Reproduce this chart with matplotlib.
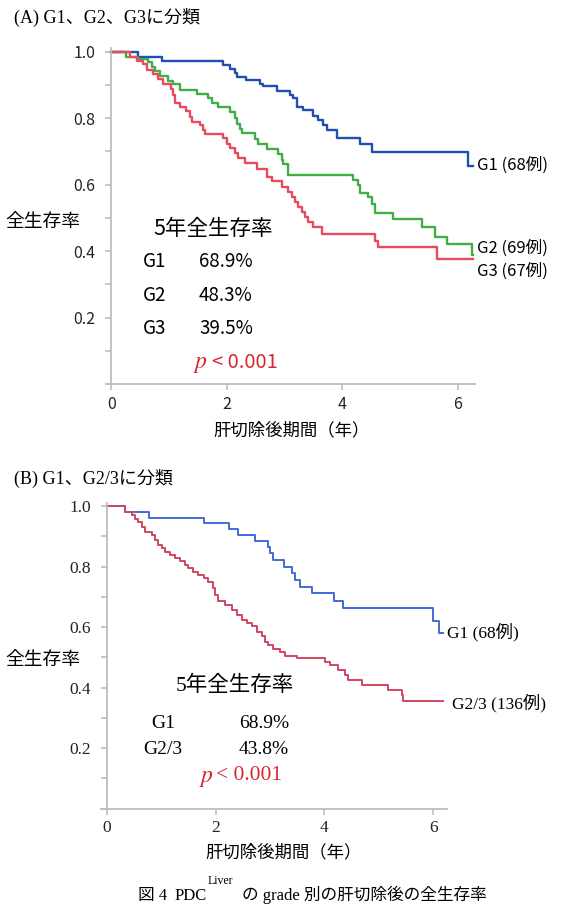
import matplotlib
matplotlib.use("Agg")
import matplotlib.pyplot as plt
from matplotlib.ticker import MultipleLocator, FixedLocator

plt.rcParams["mathtext.fontset"] = "stix"

# ---------------- data ----------------
# Panel A: G1 / G2 / G3
a_g1_t = [0, 0.465, 0.87, 1.94, 2.05, 2.14, 2.17, 2.34, 2.57, 2.63, 2.86, 3.09, 3.15, 3.21,
          3.32, 3.50, 3.58, 3.67, 3.73, 3.90, 4.31, 4.51, 6.18, 6.27]
a_g1_s = [1.0, 0.985, 0.971, 0.961, 0.948, 0.936, 0.925, 0.915, 0.903, 0.895, 0.880, 0.870,
          0.859, 0.833, 0.823, 0.806, 0.793, 0.778, 0.763, 0.741, 0.723, 0.698, 0.655, 0.655]

a_g2_t = [0, 0.26, 0.465, 0.64, 0.70, 0.75, 0.84, 0.985, 1.07, 1.19, 1.48, 1.68, 1.74, 1.85,
          2.05, 2.14, 2.17, 2.23, 2.26, 2.49, 2.54, 2.69, 2.89, 2.95, 2.98, 3.06, 4.19, 4.28,
          4.31, 4.45, 4.51, 4.57, 4.88, 5.38, 5.61, 5.81, 6.24, 6.27]
a_g2_s = [1.0, 0.985, 0.978, 0.968, 0.953, 0.941, 0.928, 0.913, 0.901, 0.885, 0.871, 0.859,
          0.845, 0.832, 0.818, 0.801, 0.783, 0.768, 0.755, 0.738, 0.723, 0.708, 0.691, 0.675,
          0.663, 0.628, 0.613, 0.598, 0.576, 0.563, 0.543, 0.515, 0.495, 0.471, 0.443, 0.420,
          0.387, 0.387]

a_g3_t = [0, 0.32, 0.44, 0.55, 0.61, 0.72, 0.81, 0.90, 1.04, 1.07, 1.10, 1.19, 1.30, 1.36,
          1.39, 1.53, 1.59, 1.62, 1.94, 2.00, 2.05, 2.14, 2.20, 2.31, 2.52, 2.69, 2.78, 2.95,
          3.06, 3.12, 3.18, 3.24, 3.30, 3.35, 3.41, 3.50, 3.64, 4.57, 4.62, 5.64, 6.27]
a_g3_s = [1.0, 0.983, 0.973, 0.963, 0.945, 0.933, 0.918, 0.903, 0.888, 0.868, 0.845, 0.833,
          0.821, 0.803, 0.788, 0.778, 0.765, 0.753, 0.741, 0.723, 0.711, 0.695, 0.681, 0.665,
          0.648, 0.623, 0.611, 0.593, 0.578, 0.563, 0.548, 0.532, 0.517, 0.502, 0.487, 0.472,
          0.452, 0.430, 0.412, 0.376, 0.376]

# Panel B: G1 / G2/3
b_g1_t = [0, 0.34, 0.77, 1.78, 2.24, 2.42, 2.73, 2.97, 3.01, 3.06, 3.25, 3.40, 3.46, 3.55,
          3.77, 4.17, 4.35, 6.00, 6.11, 6.19]
b_g1_s = [1.0, 0.981, 0.961, 0.943, 0.926, 0.904, 0.884, 0.866, 0.844, 0.822, 0.800, 0.778,
          0.756, 0.734, 0.712, 0.686, 0.662, 0.620, 0.580, 0.580]

b_g23_t = [0, 0.34, 0.46, 0.52, 0.58, 0.64, 0.70, 0.83, 0.89, 0.95, 1.01, 1.07, 1.16, 1.26,
           1.35, 1.44, 1.50, 1.59, 1.68, 1.78, 1.87, 1.96, 1.99, 2.05, 2.17, 2.30, 2.39, 2.48,
           2.57, 2.67, 2.76, 2.85, 2.91, 2.97, 3.06, 3.19, 3.28, 3.49, 4.01, 4.10, 4.26, 4.38,
           4.44, 4.69, 5.18, 5.42, 5.45, 6.19]
b_g23_s = [1.0, 0.981, 0.970, 0.959, 0.948, 0.932, 0.915, 0.904, 0.888, 0.871, 0.860, 0.849,
           0.838, 0.827, 0.818, 0.805, 0.794, 0.783, 0.772, 0.763, 0.750, 0.728, 0.706, 0.686,
           0.673, 0.657, 0.640, 0.624, 0.613, 0.602, 0.585, 0.569, 0.552, 0.541, 0.528, 0.517,
           0.506, 0.497, 0.486, 0.473, 0.459, 0.442, 0.426, 0.409, 0.393, 0.376, 0.354, 0.354]

x_ticks = [0, 2, 4, 6]
y_ticks_major = [0.2, 0.4, 0.6, 0.8, 1.0]

a_labels = ["G1 (68例)", "G2 (69例)", "G3 (67例)"]
a_rates = [("G1", "68.9%"), ("G2", "48.3%"), ("G3", "39.5%")]
b_labels = ["G1 (68例)", "G2/3 (136例)"]
b_rates = [("G1", "68.9%"), ("G2/3", "43.8%")]

# ---------------- figure ----------------
W, H = 567, 906
fig = plt.figure(figsize=(W / 100, H / 100), dpi=100)
fig.patch.set_facecolor("white")

SANS = ["Noto Sans CJK JP", "DejaVu Sans"]
SERIF = ["Liberation Serif", "Noto Sans CJK JP", "DejaVu Sans"]
AXC = "#bdbdbd"
PRED = "#d8262e"


def px(x, y):
    return x / W, 1 - y / H


def style_axes(ax, tickfont, fs, xmax):
    ax.set_xlim(-0.1, xmax)
    ax.set_ylim(0, 1.012)
    for s in ["top", "right"]:
        ax.spines[s].set_visible(False)
    ax.spines["left"].set_position(("data", 0))
    for s in ["left", "bottom"]:
        ax.spines[s].set_color(AXC)
        ax.spines[s].set_linewidth(1.3)
    ax.xaxis.set_major_locator(FixedLocator(x_ticks))
    ax.yaxis.set_major_locator(FixedLocator(y_ticks_major))
    ax.yaxis.set_minor_locator(MultipleLocator(0.1))
    ax.tick_params(axis="both", which="both", direction="out", color=AXC, width=1.2,
                   length=4.5, labelcolor="#222222")
    ax.tick_params(axis="y", pad=7)
    ax.tick_params(axis="x", pad=4)
    ax.set_yticklabels([f"{v:.1f}" for v in y_ticks_major], family=tickfont, fontsize=fs)
    ax.set_xticklabels([str(v) for v in x_ticks], family=tickfont, fontsize=fs)
    ax.set_facecolor("none")


# ---- Panel A ----
axA = fig.add_axes([105.7 / W, 1 - 384 / H, (475 - 105.7) / W, (384 - 47.6) / H])
style_axes(axA, SANS, 11.5, 6.3)
lwA = 1.7
axA.step(a_g1_t, a_g1_s, where="post", color="#1f4fb0", lw=lwA)
axA.step(a_g2_t, a_g2_s, where="post", color="#3fae45", lw=lwA)
axA.step(a_g3_t, a_g3_s, where="post", color="#ea4a60", lw=lwA)

fig.text(*px(14, 17), "(A) G1、G2、G3に分類", family=SERIF, fontsize=13, va="center", ha="left")
fig.text(*px(5, 222), "全生存率", family=SANS, fontsize=13.5, va="center", ha="left")
fig.text(*px(213, 229), "5年全生存率", family=SANS, fontsize=15.5, va="center", ha="center")
for i, (g, r) in enumerate(a_rates):
    y = 262 + i * 33.5
    fig.text(*px(143, y), g, family=SANS, fontsize=13.5, va="center", ha="left")
    fig.text(*px(199, y), r, family=SANS, fontsize=13.5, va="center", ha="left")
fig.text(*px(193, 363), r"$\mathit{p}$", fontsize=17, va="center", ha="left", color=PRED)
fig.text(*px(212, 362), "< 0.001", family=SANS, fontsize=14.5, va="center", ha="left",
         color=PRED)
fig.text(*px(477, 165), a_labels[0], family=SANS, fontsize=12, va="center", ha="left")
fig.text(*px(477, 248), a_labels[1], family=SANS, fontsize=12, va="center", ha="left")
fig.text(*px(477, 271), a_labels[2], family=SANS, fontsize=12, va="center", ha="left")
fig.text(*px(292, 430), "肝切除後期間（年）", family=SANS, fontsize=12.5, va="center", ha="center")

# ---- Panel B ----
axB = fig.add_axes([101.3 / W, 1 - 808.5 / H, (446.7 - 101.3) / W, (808.5 - 502.5) / H])
style_axes(axB, SERIF, 12.5, 6.25)
lwB = 1.4
axB.step(b_g1_t, b_g1_s, where="post", color="#4169d8", lw=lwB)
axB.step(b_g23_t, b_g23_s, where="post", color="#d24563", lw=lwB)

fig.text(*px(14, 478), "(B) G1、G2/3に分類", family=SERIF, fontsize=13, va="center", ha="left")
fig.text(*px(5, 660), "全生存率", family=SANS, fontsize=13.5, va="center", ha="left")
fig.text(*px(235, 686), "5年全生存率", family=SERIF, fontsize=15.5, va="center", ha="center")
for i, (g, r) in enumerate(b_rates):
    y = 724 + i * 26
    fig.text(*px(163, y), g, family=SERIF, fontsize=14, va="center", ha="center")
    fig.text(*px(289, y), r, family=SERIF, fontsize=14, va="center", ha="right")
fig.text(*px(199, 777), r"$\mathit{p}$", fontsize=17, va="center", ha="left", color=PRED)
fig.text(*px(216, 775), "< 0.001", family=SERIF, fontsize=15.5, va="center", ha="left",
         color=PRED)
fig.text(*px(447, 632), b_labels[0], family=SERIF, fontsize=12.5, va="center", ha="left")
fig.text(*px(452, 703), b_labels[1], family=SERIF, fontsize=12.5, va="center", ha="left")
fig.text(*px(284, 852), "肝切除後期間（年）", family=SANS, fontsize=12.5, va="center", ha="center")

# ---- caption ----
fig.text(*px(138, 904), "図 4", family=SERIF, fontsize=12, va="bottom", ha="left")
fig.text(*px(175, 904), "PDC", family=SERIF, fontsize=12, va="bottom", ha="left")
fig.text(*px(208, 887), "Liver", family=SERIF, fontsize=8.5, va="bottom", ha="left")
fig.text(*px(242, 904), "の grade 別の肝切除後の全生存率", family=SERIF, fontsize=12,
         va="bottom", ha="left")

fig.savefig("out.png", dpi=100, facecolor="white")
